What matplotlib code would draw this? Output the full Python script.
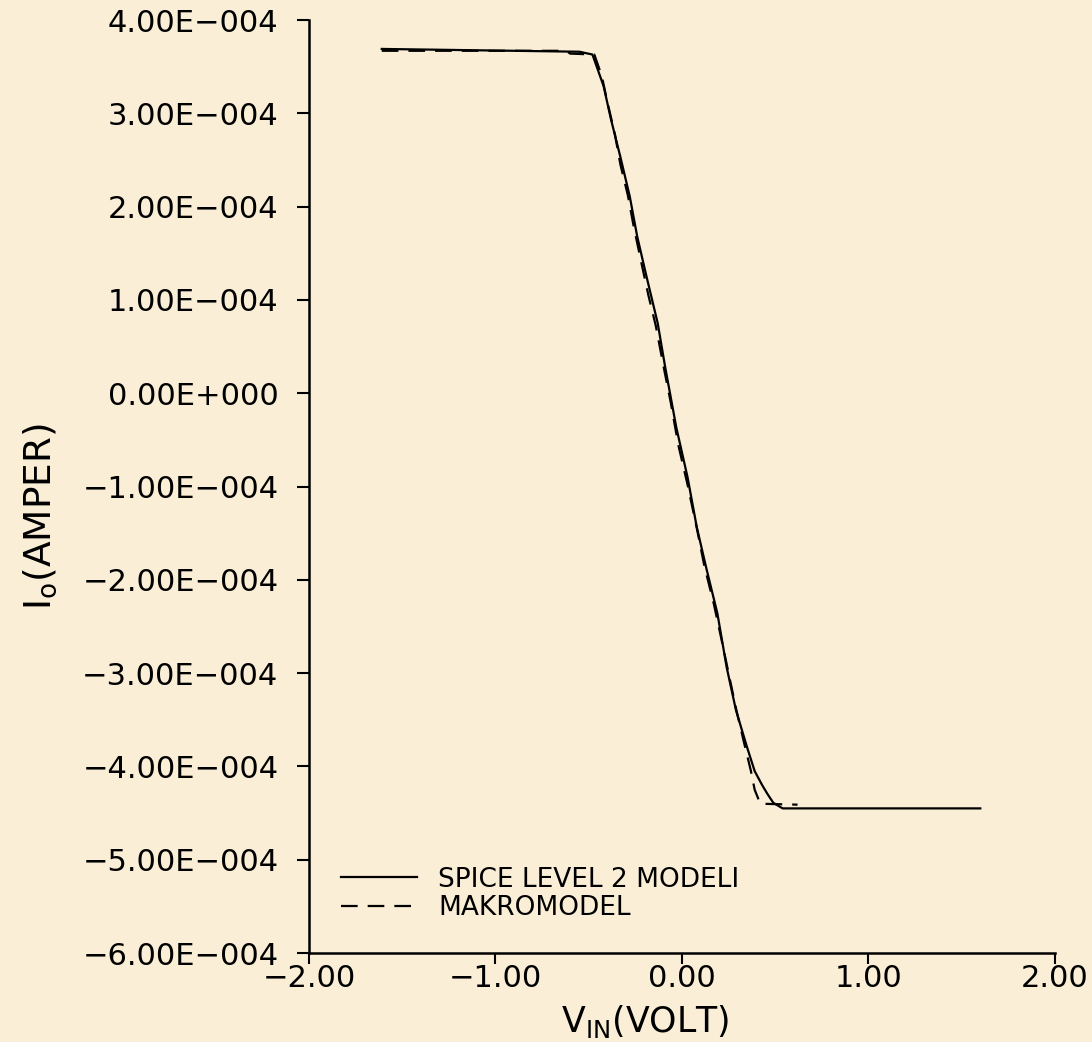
import matplotlib.pyplot as plt

# SPICE level 2 model (solid), V_IN in volts, I_o in units of 1e-4 A
v_spice = [-1.61, -0.55, -0.48, -0.42, -0.38, -0.33, -0.28, -0.24, -0.19, -0.13,
           -0.09, -0.03, 0.03, 0.08, 0.13, 0.19, 0.24, 0.29, 0.35, 0.39,
           0.43, 0.46, 0.49, 0.54, 1.60]
i_spice = [3.69, 3.66, 3.63, 3.29, 2.93, 2.53, 2.11, 1.68, 1.25, 0.75,
           0.28, -0.37, -0.90, -1.44, -1.87, -2.36, -2.94, -3.40, -3.80, -4.05,
           -4.20, -4.30, -4.39, -4.45, -4.45]

# Makromodel (dashed)
v_makro = [-1.61, -0.62, -0.60, -0.47, -0.43, -0.40, -0.36, -0.33, -0.29, -0.26,
           -0.22, -0.18, -0.14, -0.10, -0.06, -0.02, 0.03, 0.08, 0.12, 0.17,
           0.21, 0.25, 0.29, 0.33, 0.37, 0.39, 0.42, 0.62]
i_makro = [3.67, 3.67, 3.64, 3.63, 3.40, 3.12, 2.78, 2.45, 2.12, 1.80,
           1.42, 1.05, 0.72, 0.30, -0.10, -0.55, -0.98, -1.45, -1.85, -2.25,
           -2.62, -3.00, -3.38, -3.72, -4.05, -4.25, -4.40, -4.41]

x_ticks = [-2.0, -1.0, 0.0, 1.0, 2.0]
x_labels = ['\u22122.00', '\u22121.00', '0.00', '1.00', '2.00']
y_ticks = [4, 3, 2, 1, 0, -1, -2, -3, -4, -5, -6]
y_labels = ['4.00E\u2212004', '3.00E\u2212004', '2.00E\u2212004', '1.00E\u2212004',
            '0.00E+000', '\u22121.00E\u2212004', '\u22122.00E\u2212004', '\u22123.00E\u2212004',
            '\u22124.00E\u2212004', '\u22125.00E\u2212004', '\u22126.00E\u2212004']

scale = 1e-4
bg = '#FAEFD6'

fig = plt.figure(figsize=(10.92, 10.42), dpi=100, facecolor=bg)
ax = fig.add_axes([0.283, 0.0854, 0.683, 0.8954])
ax.set_facecolor(bg)

ax.plot(v_spice, [i * scale for i in i_spice], color='black', lw=1.6,
        label='SPICE LEVEL 2 MODELI')
ax.plot(v_makro, [i * scale for i in i_makro], color='black', lw=1.6,
        linestyle=(0, (7.5, 4.5)), label='MAKROMODEL')

ax.set_xlim(-2, 2)
ax.set_ylim(-6 * scale, 4 * scale)
ax.set_xticks(x_ticks)
ax.set_xticklabels(x_labels)
ax.set_yticks([t * scale for t in y_ticks])
ax.set_yticklabels(y_labels)

for side in ['top', 'right']:
    ax.spines[side].set_visible(False)
for side in ['left', 'bottom']:
    ax.spines[side].set_linewidth(1.8)

ax.tick_params(axis='y', direction='out', length=9, width=1.5, pad=13, labelsize=22)
ax.tick_params(axis='x', direction='out', length=8, width=1.5, pad=0, labelsize=22)

leg = ax.legend(loc='lower left', bbox_to_anchor=(0.0, 0.0), frameon=False,
                fontsize=19, handlelength=2.9, handletextpad=0.8,
                labelspacing=0.1, borderaxespad=0.8)

fig.text(645 / 1092, 1 - 1003 / 1042, r'$\mathregular{V_{IN}}$(VOLT)',
         ha='center', va='top', fontsize=25)
fig.text(40 / 1092, 1 - 517 / 1042, r'$\mathregular{I_o}$(AMPER)',
         ha='center', va='center', rotation=90, fontsize=27)

fig.savefig('out.png', dpi=100, facecolor=bg)
